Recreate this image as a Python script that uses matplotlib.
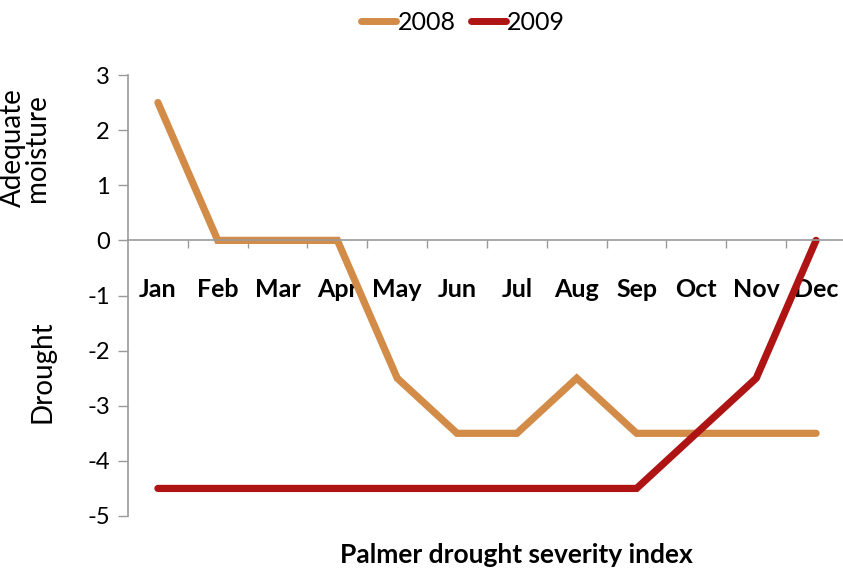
import numpy as np
import matplotlib.pyplot as plt

plt.rcParams['font.family'] = ['Lato', 'DejaVu Sans']
plt.rcParams['axes.unicode_minus'] = False

months = ['Jan', 'Feb', 'Mar', 'Apr', 'May', 'Jun', 'Jul', 'Aug', 'Sep', 'Oct', 'Nov', 'Dec']
pdsi_2008 = [2.5, 0, 0, 0, -2.5, -3.5, -3.5, -2.5, -3.5, -3.5, -3.5, -3.5]
pdsi_2009 = [-4.5, -4.5, -4.5, -4.5, -4.5, -4.5, -4.5, -4.5, -4.5, -3.5, -2.5, 0]
yticks = [3, 2, 1, 0, -1, -2, -3, -4, -5]

c2008 = '#D28C48'
c2009 = '#AE1414'
gray = '#9a9a9a'

fig = plt.figure(figsize=(8.43, 5.79), dpi=100)
ax = fig.add_axes([128/843, 1 - 516/579, 1 - 128/843, (516 - 75)/579])

x = np.arange(len(months))
ax.plot(x, pdsi_2008, color=c2008, lw=5.2, solid_joinstyle='miter', solid_capstyle='round', label='2008')
ax.plot(x, pdsi_2009, color=c2009, lw=5.2, solid_joinstyle='miter', solid_capstyle='round', label='2009')

ax.set_xlim(-0.5, 11.45)
ax.set_ylim(-5, 3)
ax.set_yticks(yticks)
ax.tick_params(axis='y', direction='out', length=7, width=1, color=gray, pad=6, labelsize=17)

ax.spines['top'].set_visible(False)
ax.spines['right'].set_visible(False)
ax.spines['bottom'].set_position(('data', 0))
for s in ['left', 'bottom']:
    ax.spines[s].set_color(gray)
    ax.spines[s].set_linewidth(1.2)

# category boundaries as major ticks, month names as minor tick labels
ax.set_xticks(np.arange(0.5, 11, 1))
ax.set_xticklabels([])
ax.tick_params(axis='x', which='major', direction='out', length=6, width=1, color=gray)
ax.set_xticks(x, minor=True)
ax.set_xticklabels(months, minor=True, fontweight='bold', fontsize=18)
ax.tick_params(axis='x', which='minor', length=0, pad=27)

fig.text(25/843, 1 - 148/579, 'Adequate\nmoisture', rotation=90, ha='center', va='center',
         fontsize=20, linespacing=0.9)
fig.text(42/843, 1 - 372/579, 'Drought', rotation=90, ha='center', va='center', fontsize=20)
fig.text(516/843, 1 - 555/579, 'Palmer drought severity index', ha='center', va='center',
         fontsize=19, fontweight='bold')

leg = fig.legend(loc='center', bbox_to_anchor=(463/843, 1 - 22/579), ncol=2, frameon=False,
                 fontsize=18, handlelength=1.4, handletextpad=0.05, columnspacing=0.6)
for h in leg.get_lines():
    h.set_linewidth(5)

fig.savefig('out.png', dpi=100)
